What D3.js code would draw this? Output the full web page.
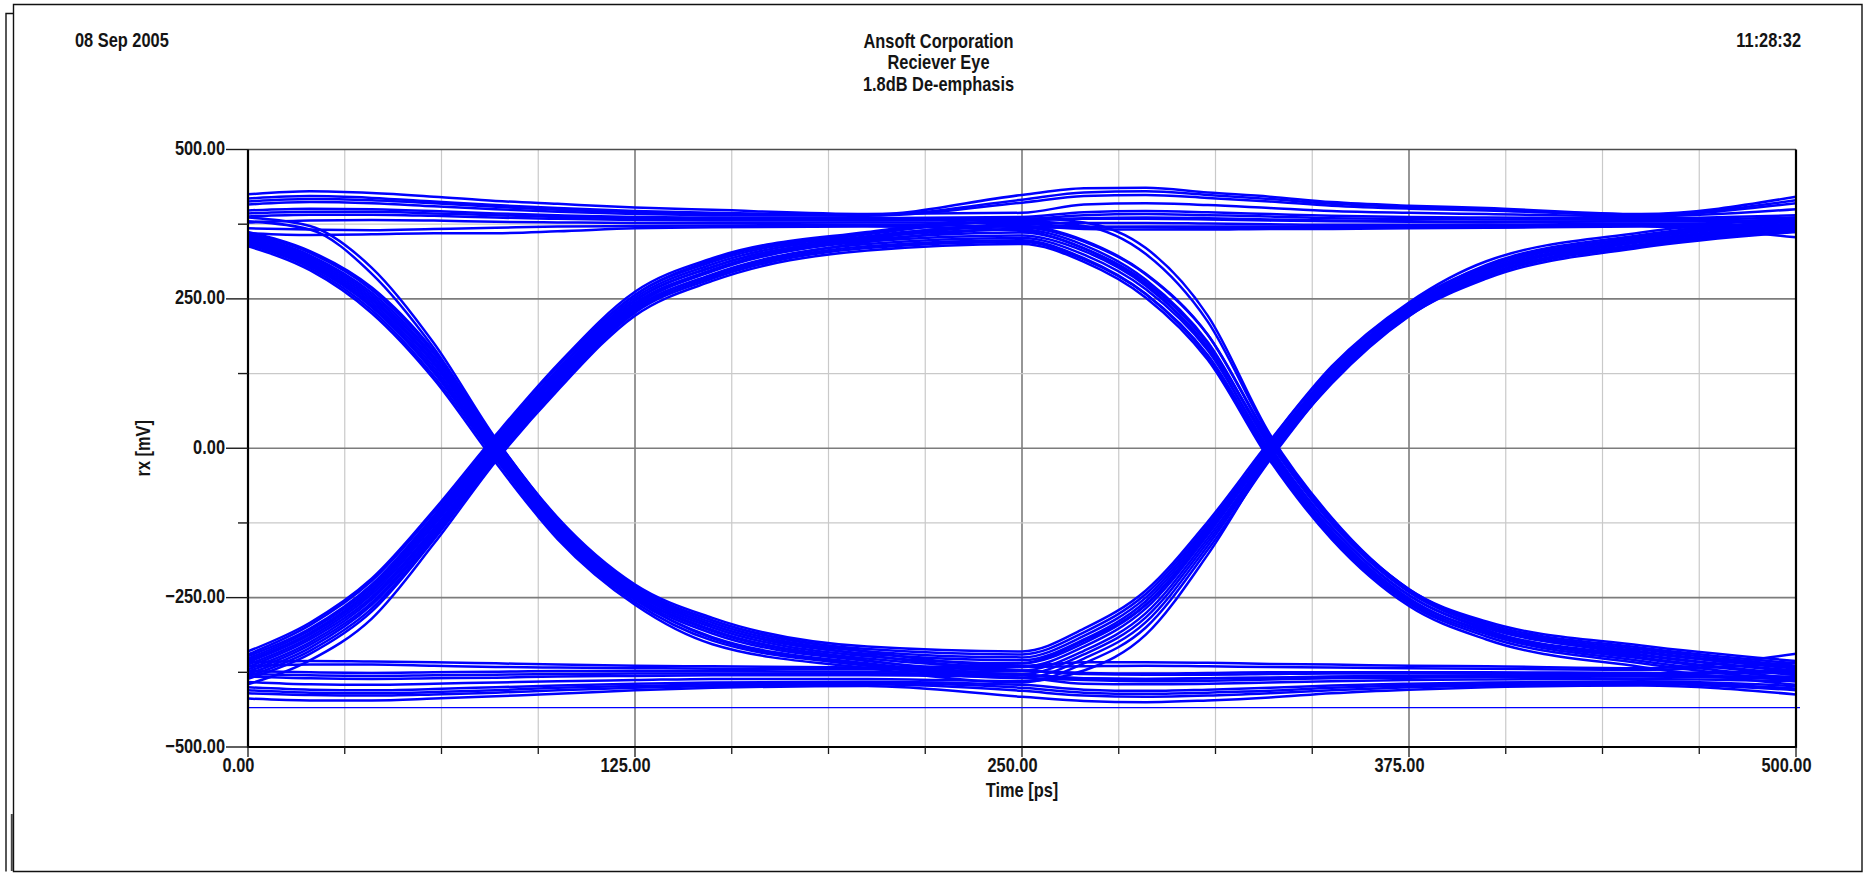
<!DOCTYPE html>
<html>
<head>
<meta charset="utf-8">
<title>Reciever Eye</title>
<script src="https://cdn.jsdelivr.net/npm/d3@7"></script>
<style>
  html, body { margin: 0; padding: 0; background: #ffffff; }
  svg { display: block; }
</style>
</head>
<body>
<svg id="chart" width="1866" height="873"></svg>
<script>
// ---- header texts ----
const headerLeft = "08 Sep 2005";
const headerRight = "11:28:32";
const titleLines = ["Ansoft Corporation", "Reciever Eye", "1.8dB De-emphasis"];
const xLabel = "Time [ps]";
const yLabel = "rx [mV]";

// ---- axis labels ----
const xTickLabels = [0, 125, 250, 375, 500];
const yTickLabels = [-500, -250, 0, 250, 500];

// ---- sample instants of every trace (ps) ----
const timePs = [0, 20, 40, 60, 80, 100, 125, 150, 200, 250, 270, 290, 310, 330, 350, 375, 400, 450, 500];

// ---- receiver voltage traces (mV), grouped by bit pattern ----
const tracesHHH = [
  [418, 422, 419, 413, 407, 402, 397, 394, 391, 424, 435, 436, 428, 421, 412, 406, 402, 392, 421],
  [413, 417, 415, 410, 404, 399, 395, 392, 390, 416, 428, 430, 424, 417, 409, 404, 400, 391, 415],
  [408, 412, 410, 405, 400, 396, 392, 390, 389, 411, 422, 424, 419, 413, 406, 401, 398, 390, 410],
  [425, 430, 427, 421, 414, 409, 403, 399, 392, 394, 408, 410, 407, 402, 397, 394, 392, 388, 400],
  [398, 401, 400, 397, 393, 390, 387, 386, 385, 387, 395, 397, 395, 392, 389, 387, 386, 385, 390],
  [393, 396, 396, 393, 390, 387, 385, 384, 383, 384, 390, 392, 390, 388, 385, 384, 383, 383, 386],
  [388, 391, 391, 389, 386, 384, 382, 381, 381, 381, 385, 386, 385, 383, 381, 380, 379, 380, 382],
  [378, 381, 382, 381, 379, 378, 377, 377, 378, 377, 377, 377, 376, 375, 374, 374, 374, 376, 372]
];
const tracesLHH = [
  [-345, -296, -222, -108, 18, 137, 257, 315, 360, 382, 384, 384, 383, 381, 380, 379, 378, 380, 378],
  [-355, -309, -236, -121, 7, 125, 248, 304, 353, 375, 371, 370, 369, 369, 369, 369, 370, 373, 362],
  [-362, -316, -244, -129, 0, 119, 243, 298, 350, 372, 367, 366, 366, 367, 367, 368, 369, 371, 353],
  [-374, -329, -258, -142, -10, 109, 235, 290, 345, 368, 370, 371, 371, 371, 371, 371, 372, 374, 366]
];
const tracesLHL = [
  [-340, -292, -218, -104, 22, 140, 262, 318, 362, 385, 378, 335, 222, 24, -116, -236, -290, -330, -356],
  [-348, -302, -228, -113, 14, 132, 256, 312, 358, 380, 372, 325, 212, 20, -118, -238, -293, -334, -360],
  [-352, -305, -232, -117, 11, 129, 252, 308, 355, 372, 348, 292, 190, 12, -123, -239, -296, -337, -364],
  [-358, -312, -240, -125, 3, 122, 247, 303, 352, 366, 340, 282, 178, 3, -132, -246, -301, -342, -369],
  [-366, -320, -249, -134, -4, 115, 241, 299, 349, 361, 334, 274, 167, -6, -141, -254, -306, -347, -374],
  [-370, -325, -253, -138, -7, 112, 238, 296, 346, 356, 330, 272, 170, 9, -126, -241, -298, -340, -366],
  [-378, -334, -262, -146, -13, 106, 233, 291, 342, 352, 324, 266, 164, -3, -138, -251, -308, -352, -380],
  [-382, -339, -268, -150, -16, 103, 230, 287, 338, 348, 318, 258, 153, -15, -148, -260, -315, -360, -390],
  [-386, -344, -273, -153, -18, 101, 227, 284, 335, 345, 316, 258, 156, -10, -144, -257, -311, -356, -385],
  [-395, -355, -285, -160, -22, 97, 222, 280, 331, 342, 312, 252, 148, -20, -152, -264, -320, -366, -396]
];
const tracesHHL = [
  [368, 366, 365, 367, 369, 371, 372, 373, 374, 370, 346, 291, 190, 15, -120, -236, -296, -345, -372],
  [360, 357, 358, 360, 360, 363, 368, 370, 371, 364, 335, 278, 175, 3, -132, -246, -304, -350, -378]
];
const tracesLLL = [
  [-419, -422, -422, -419, -415, -411, -405, -401, -398, -416, -423, -425, -422, -417, -410, -404, -400, -397, -412],
  [-410, -413, -414, -412, -409, -405, -401, -398, -395, -406, -414, -416, -414, -410, -405, -400, -397, -394, -405],
  [-405, -409, -410, -408, -405, -401, -398, -395, -393, -401, -409, -411, -409, -406, -401, -397, -395, -392, -402],
  [-400, -404, -405, -403, -400, -397, -394, -392, -391, -396, -404, -406, -404, -401, -397, -394, -392, -390, -398],
  [-382, -385, -386, -385, -384, -382, -381, -380, -380, -384, -394, -395, -394, -392, -390, -388, -387, -386, -390],
  [-378, -380, -381, -380, -379, -378, -377, -377, -377, -379, -385, -386, -385, -384, -382, -381, -380, -381, -386],
  [-373, -375, -376, -375, -374, -373, -373, -373, -374, -373, -376, -377, -376, -375, -375, -375, -375, -376, -372],
  [-365, -362, -362, -364, -366, -367, -368, -369, -370, -366, -365, -364, -365, -366, -367, -368, -369, -371, -358]
];
const tracesLLH = [
  [-391, -395, -396, -394, -392, -390, -388, -386, -386, -390, -372, -312, -178, -16, 108, 221, 288, 340, 364],
  [-358, -356, -357, -358, -360, -362, -364, -365, -367, -360, -322, -262, -140, 10, 134, 242, 305, 353, 381]
];
const tracesHLL = [
  [345, 308, 238, 130, -12, -142, -252, -318, -362, -384, -388, -390, -389, -387, -385, -384, -383, -382, -386],
  [348, 311, 244, 136, -6, -137, -248, -306, -355, -380, -385, -386, -385, -384, -383, -382, -381, -381, -382],
  [355, 320, 256, 150, 5, -127, -240, -296, -346, -372, -378, -379, -379, -378, -377, -377, -377, -378, -375],
  [380, 366, 292, 168, 12, -118, -234, -288, -340, -364, -358, -358, -359, -361, -362, -364, -365, -368, -344]
];
const tracesHLH = [
  [338, 298, 226, 116, -24, -152, -262, -328, -368, -392, -360, -300, -170, -20, 110, 222, 284, 336, 362],
  [341, 302, 231, 121, -18, -148, -258, -322, -364, -385, -352, -291, -163, -15, 112, 224, 287, 339, 365],
  [343, 305, 236, 127, -14, -144, -254, -316, -360, -378, -345, -283, -157, -12, 113, 225, 290, 342, 368],
  [346, 308, 240, 131, -10, -140, -251, -310, -356, -372, -339, -276, -151, -9, 116, 227, 293, 345, 371],
  [350, 314, 248, 141, -2, -134, -246, -304, -352, -366, -332, -268, -145, -3, 121, 231, 297, 348, 374],
  [353, 317, 252, 145, 2, -130, -243, -300, -348, -360, -326, -262, -140, -6, 118, 229, 295, 346, 372],
  [357, 323, 260, 154, 9, -124, -238, -296, -344, -355, -320, -256, -136, 0, 124, 234, 300, 351, 377],
  [359, 327, 265, 159, 12, -121, -236, -292, -340, -350, -314, -250, -132, 3, 127, 236, 303, 354, 380],
  [362, 330, 269, 163, 15, -118, -231, -288, -336, -345, -308, -244, -128, 6, 130, 239, 307, 357, 382],
  [386, 372, 302, 176, 16, -116, -228, -284, -332, -340, -302, -238, -123, 12, 137, 244, 313, 361, 386]
];
// idle (start-up) trace held at a constant level
const idleTimePs = [0, 500];
const idleTrace = [-434, -434];

// ---- layout ----
const svg = d3.select("#chart");
const plot = { left: 248, right: 1796, top: 149.5, bottom: 747 };
const x = d3.scaleLinear().domain([0, 500]).range([plot.left, plot.right]);
const y = d3.scaleLinear().domain([-500, 500]).range([plot.bottom, plot.top]);

// pick a condensed face; fall back to a horizontally squeezed regular face
function measure(family) {
  const t = svg.append("text").attr("x", -2000).attr("y", -2000)
    .style("font-family", family).style("font-weight", "bold").style("font-size", "20px")
    .text("Ansoft Corporation");
  const w = t.node().getComputedTextLength();
  t.remove();
  return w;
}
const hasNarrow = Math.abs(measure("'Liberation Sans Narrow', monospace") - measure("monospace")) > 1;
const fontFamily = hasNarrow ? "'Liberation Sans Narrow', 'Arial Narrow', sans-serif" : "'Liberation Sans', Arial, sans-serif";
const squeeze = hasNarrow ? 1 : 0.82;

function label(parent, px, py, str, anchor, rotate) {
  const g = parent.append("g")
    .attr("transform", `translate(${px},${py})` + (rotate ? ` rotate(${rotate})` : "") + ` scale(${squeeze},1)`);
  g.append("text")
    .attr("text-anchor", anchor)
    .style("font-family", fontFamily)
    .style("font-weight", "bold")
    .style("font-size", "20px")
    .attr("fill", "#141414")
    .text(str);
  return g;
}

// ---- page frame ----
const frame = svg.append("g").attr("fill", "none").attr("stroke", "#111").attr("stroke-width", 1.4);
frame.append("path").attr("d", "M13.5,4.5H1862V871.5H13.5Z");
frame.append("path").attr("d", "M13.5,13.5H6V871.5");
svg.append("line").attr("x1", 11.8).attr("x2", 11.8).attr("y1", 814).attr("y2", 871)
  .attr("stroke", "#444").attr("stroke-width", 2);

// ---- header ----
const header = svg.append("g");
label(header, 75, 46.5, headerLeft, "start");
label(header, 1801, 46.5, headerRight, "end");
const titleBaselines = [47.5, 68.8, 90.5];
titleLines.forEach((s, i) => label(header, 938.5, titleBaselines[i], s, "middle"));

// ---- grid ----
const grid = svg.append("g");
const xGridVals = d3.range(0, 500.001, 31.25).filter(v => v > 0 && v < 500);
const yGridVals = d3.range(-500, 500.001, 125).filter(v => v > -500 && v < 500);
const isMajorX = v => Math.abs(v % 125) < 1e-6;
const isMajorY = v => Math.abs(v % 250) < 1e-6;
grid.selectAll("line.vx").data(xGridVals).join("line")
  .attr("x1", d => x(d)).attr("x2", d => x(d))
  .attr("y1", plot.top).attr("y2", plot.bottom)
  .attr("stroke", d => isMajorX(d) ? "#7c7c7c" : "#c9c9c9")
  .attr("stroke-width", d => isMajorX(d) ? 1.6 : 1.2);
grid.selectAll("line.hy").data(yGridVals).join("line")
  .attr("y1", d => y(d)).attr("y2", d => y(d))
  .attr("x1", plot.left).attr("x2", plot.right)
  .attr("stroke", d => isMajorY(d) ? "#7c7c7c" : "#c9c9c9")
  .attr("stroke-width", d => isMajorY(d) ? 1.6 : 1.2);

// ---- traces ----
svg.append("clipPath").attr("id", "plotClip").append("rect")
  .attr("x", plot.left).attr("y", plot.top - 2)
  .attr("width", plot.right - plot.left + 4).attr("height", plot.bottom - plot.top + 4);
const traceG = svg.append("g").attr("clip-path", "url(#plotClip)")
  .attr("fill", "none").attr("stroke", "#0000ff").attr("stroke-width", 2.5);
const traceLine = d3.line()
  .x((d, i) => x(timePs[i]))
  .y(d => y(d))
  .curve(d3.curveMonotoneX);
const allTraces = [].concat(tracesHHH, tracesHHL, tracesLHH, tracesLHL,
                            tracesLLL, tracesLLH, tracesHLL, tracesHLH);
traceG.selectAll("path.trace").data(allTraces).join("path")
  .attr("class", "trace").attr("d", traceLine);
traceG.append("path")
  .attr("d", d3.line().x((d, i) => x(idleTimePs[i]) + (i ? 4 : 0)).y(d => y(d))(idleTrace))
  .attr("stroke-width", 1.3);

// ---- plot border ----
const border = svg.append("g").attr("fill", "none");
border.append("line").attr("x1", plot.left).attr("x2", plot.right)
  .attr("y1", plot.top).attr("y2", plot.top).attr("stroke", "#4c4c4c").attr("stroke-width", 1.6);
border.append("path")
  .attr("d", `M${plot.left},${plot.top}V${plot.bottom}H${plot.right}V${plot.top}`)
  .attr("stroke", "#000").attr("stroke-width", 2.2);

// ---- y axis ticks and labels ----
const yAxis = svg.append("g");
yAxis.selectAll("line.major").data(yTickLabels).join("line")
  .attr("x1", plot.left - 22).attr("x2", plot.left)
  .attr("y1", d => y(d)).attr("y2", d => y(d))
  .attr("stroke", "#1a1a1a").attr("stroke-width", 1.4);
yAxis.selectAll("line.minor").data(yGridVals.filter(v => !isMajorY(v))).join("line")
  .attr("x1", plot.left - 10).attr("x2", plot.left)
  .attr("y1", d => y(d)).attr("y2", d => y(d))
  .attr("stroke", "#1a1a1a").attr("stroke-width", 1.4);
const fmt = d3.format(".2f");
yTickLabels.forEach(v => label(yAxis, plot.left - 23, y(v) + 5.5, fmt(v), "end"));
label(yAxis, 150, (plot.top + plot.bottom) / 2, yLabel, "middle", -90);

// ---- x axis ticks and labels ----
const xAxis = svg.append("g");
const xTickVals = d3.range(0, 500.001, 31.25);
xAxis.selectAll("line.tick").data(xTickVals).join("line")
  .attr("x1", d => x(d)).attr("x2", d => x(d))
  .attr("y1", plot.bottom).attr("y2", d => plot.bottom + (isMajorX(d) ? 10 : 7))
  .attr("stroke", "#1a1a1a").attr("stroke-width", 1.3);
xTickLabels.forEach(v => label(xAxis, x(v) - 9.5, 771.5, fmt(v), "middle"));
label(xAxis, (plot.left + plot.right) / 2, 797, xLabel, "middle");
</script>
</body>
</html>
